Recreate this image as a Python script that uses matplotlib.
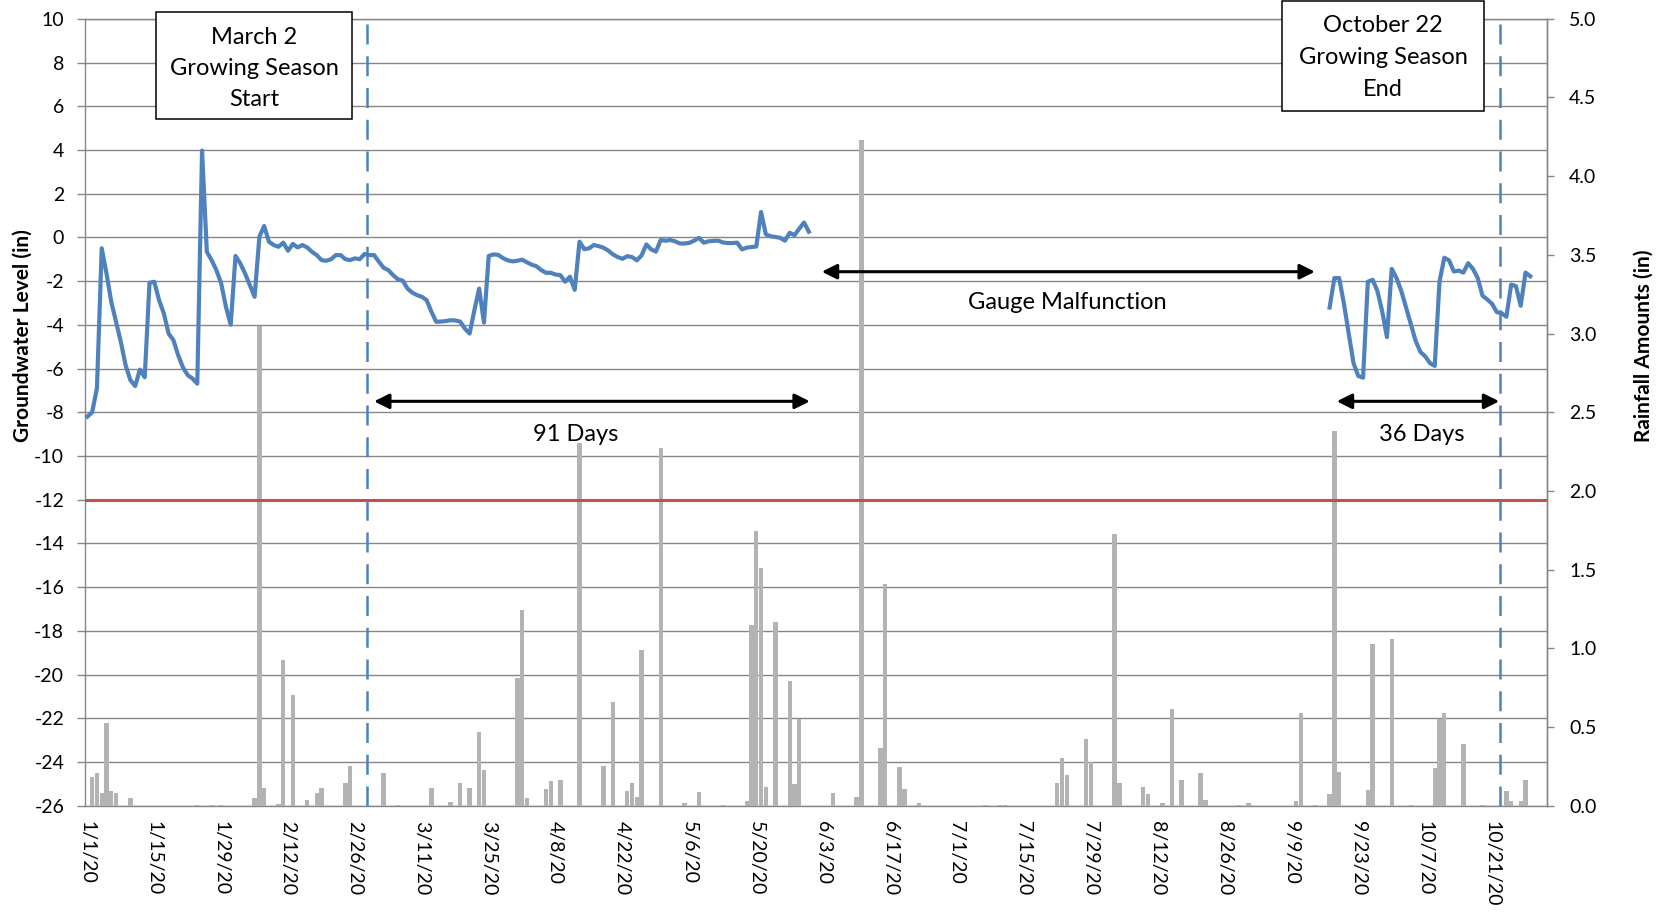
import matplotlib
matplotlib.use("Agg")
import matplotlib.pyplot as plt
import matplotlib.patches as mpatches
import numpy as np
import pandas as pd

# ------------------------------------------------------------------ data
gw_start_1 = "2020-01-01"
gw_level_1 = [
    -8.2, -8.0, -6.9, -0.5, -1.65, -2.95, -3.86, -4.78, -5.85, -6.53,
    -6.8, -6.05, -6.4, -2.08, -2.03, -2.87, -3.48, -4.4, -4.7, -5.39,
    -5.95, -6.3, -6.46, -6.69, 3.97, -0.66, -1.04, -1.5, -2.1, -3.18,
    -4.0, -0.85, -1.19, -1.65, -2.18, -2.72, 0.03, 0.52, -0.2, -0.35,
    -0.43, -0.24, -0.61, -0.3, -0.46, -0.35, -0.46, -0.66, -0.81, -1.04,
    -1.07, -1.0, -0.81, -0.81, -1.0, -1.04, -0.96, -1.0, -0.76, -0.81,
    -0.81, -1.11, -1.39, -1.5, -1.73, -1.92, -1.98, -2.34, -2.53, -2.64,
    -2.72, -2.87, -3.4, -3.86, -3.85, -3.83, -3.79, -3.8, -3.85, -4.17,
    -4.4, -3.33, -2.34, -3.9, -0.85, -0.78, -0.8, -0.95, -1.05, -1.1,
    -1.07, -1.02, -1.14, -1.25, -1.32, -1.5, -1.62, -1.62, -1.7, -1.73,
    -2.03, -1.8, -2.4, -0.2, -0.54, -0.5, -0.35, -0.4, -0.47, -0.6,
    -0.78, -0.9, -0.98, -0.86, -0.9, -1.05, -0.82, -0.32, -0.55, -0.65,
    -0.12, -0.15, -0.12, -0.18, -0.28, -0.28, -0.25, -0.15, -0.02, -0.24,
    -0.18, -0.16, -0.15, -0.23, -0.26, -0.26, -0.24, -0.55, -0.47, -0.44,
    -0.42, 1.16, 0.14, 0.05, 0.02, -0.02, -0.15, 0.21, 0.1, 0.4,
    0.68, 0.26,
]
gw_start_2 = "2020-09-17"
gw_level_2 = [
    -3.21, -1.86, -1.86, -3.04, -4.4, -5.75, -6.34, -6.42, -2.03, -1.94,
    -2.45, -3.38, -4.56, -1.44, -1.86, -2.45, -3.21, -3.97, -4.73, -5.24,
    -5.44, -5.75, -5.88, -2.03, -0.93, -1.05, -1.56, -1.52, -1.61, -1.18,
    -1.44, -1.86, -2.67, -2.84, -3.04, -3.42, -3.47, -3.63, -2.16, -2.23,
    -3.13, -1.61, -1.78,
]

rain_dates = [
    "2020-01-02", "2020-01-03", "2020-01-04", "2020-01-05", "2020-01-06",
    "2020-01-07", "2020-01-10", "2020-01-24", "2020-01-27", "2020-01-29",
    "2020-02-05", "2020-02-06", "2020-02-07", "2020-02-10", "2020-02-11",
    "2020-02-13", "2020-02-16", "2020-02-18", "2020-02-19", "2020-02-24",
    "2020-02-25", "2020-03-03", "2020-03-06", "2020-03-13", "2020-03-17",
    "2020-03-19", "2020-03-21", "2020-03-23", "2020-03-24", "2020-03-31",
    "2020-04-01", "2020-04-02", "2020-04-06", "2020-04-07", "2020-04-09",
    "2020-04-13", "2020-04-18", "2020-04-20", "2020-04-23", "2020-04-24",
    "2020-04-25", "2020-04-26", "2020-04-30", "2020-05-05", "2020-05-08",
    "2020-05-13", "2020-05-18", "2020-05-19", "2020-05-20", "2020-05-21",
    "2020-05-22", "2020-05-24", "2020-05-27", "2020-05-28", "2020-05-29",
    "2020-06-05", "2020-06-10", "2020-06-11", "2020-06-15", "2020-06-16",
    "2020-06-19", "2020-06-20", "2020-06-23", "2020-07-07", "2020-07-10",
    "2020-07-11", "2020-07-22", "2020-07-23", "2020-07-24", "2020-07-28",
    "2020-07-29", "2020-08-03", "2020-08-04", "2020-08-09", "2020-08-10",
    "2020-08-13", "2020-08-15", "2020-08-17", "2020-08-21", "2020-08-22",
    "2020-08-29", "2020-08-31", "2020-09-10", "2020-09-11", "2020-09-14",
    "2020-09-17", "2020-09-18", "2020-09-19", "2020-09-25", "2020-09-26",
    "2020-09-30", "2020-10-04", "2020-10-09", "2020-10-10", "2020-10-11",
    "2020-10-15", "2020-10-19", "2020-10-24", "2020-10-25", "2020-10-27",
    "2020-10-28",
]
rain_in = [
    0.18, 0.205, 0.083, 0.525, 0.095,
    0.078, 0.047, 0.005, 0.005, 0.005,
    0.047, 3.05, 0.114, 0.01, 0.925,
    0.703, 0.036, 0.083, 0.114, 0.146,
    0.254, 0.205, 0.005, 0.114, 0.025,
    0.146, 0.114, 0.47, 0.227, 0.81,
    1.243, 0.047, 0.106, 0.157, 0.163,
    2.306, 0.254, 0.656, 0.095, 0.146,
    0.057, 0.989, 2.274, 0.02, 0.085,
    0.005, 0.03, 1.148, 1.747, 1.508,
    0.116, 1.169, 0.794, 0.138, 0.553,
    0.078, 0.057, 4.23, 0.364, 1.406,
    0.248, 0.106, 0.02, 0.003, 0.003,
    0.003, 0.146, 0.305, 0.192, 0.424,
    0.28, 1.726, 0.147, 0.117, 0.072,
    0.02, 0.617, 0.166, 0.206, 0.035,
    0.005, 0.015, 0.03, 0.586, 0.003,
    0.072, 2.38, 0.211, 0.098, 1.028,
    1.058, 0.003, 0.241, 0.554, 0.586,
    0.394, 0.003, 0.096, 0.03, 0.03,
    0.166,
]

x_first, x_last = "2020-01-01", "2020-11-01"
tick_dates = pd.date_range("2020-01-01", "2020-10-21", freq="14D")
gw_ticks = list(range(-26, 11, 2))
rain_ticks = [0.0, 0.5, 1.0, 1.5, 2.0, 2.5, 3.0, 3.5, 4.0, 4.5, 5.0]
threshold_level = -12
season_marks = ["2020-02-28 11:00", "2020-10-22 15:30"]

arrow_91 = ("2020-03-01 00:00", "2020-05-31 05:00", -7.5)
arrow_36 = ("2020-09-18 12:00", "2020-10-22 12:00", -7.5)
arrow_gauge = ("2020-06-02 17:00", "2020-09-13 22:00", -1.57)
label_91 = ("2020-04-12 07:00", -9.0, "91 Days")
label_36 = ("2020-10-06 07:00", -9.0, "36 Days")
label_gauge = ("2020-07-24 03:00", -3.0, "Gauge Malfunction")
box_start_lines = ["March 2", "Growing Season", "Start"]
box_end_lines = ["October 22", "Growing Season", "End"]

# ------------------------------------------------------------------ style
plt.rcParams["font.family"] = ["Lato", "DejaVu Sans"]
plt.rcParams["axes.unicode_minus"] = False

W, H = 1667, 914
fig = plt.figure(figsize=(W / 100, H / 100), dpi=100)
L, R, T, B = 85, 1547, 18.8, 805.7
ax = fig.add_axes([L / W, 1 - B / H, (R - L) / W, (B - T) / H])
ax2 = ax.twinx()
ax3 = ax.twinx()

GRID = "#868686"
BLUE = "#4F81BD"
RED = "#C0504D"
BAR = "#B3B3B3"

# left axis / grid
ax.set_ylim(-26, 10)
ax.set_yticks(gw_ticks)
ax.set_yticklabels([str(v) for v in gw_ticks])
ax.grid(axis="y", color=GRID, lw=1.0)
ax.set_axisbelow(True)
for s in ["left", "bottom", "top", "right"]:
    ax.spines[s].set_color(GRID)
    ax.spines[s].set_linewidth(1.0)
ax.tick_params(axis="y", direction="out", length=5.5, width=1.0, color=GRID,
               pad=9.5, labelsize=14)

xmin = pd.Timestamp(x_first) - pd.Timedelta(hours=12)
xmax = pd.Timestamp(x_last) + pd.Timedelta(hours=12)
ax.set_xlim(xmin, xmax)
ax.set_xticks(tick_dates)
ax.set_xticklabels([f"{d.month}/{d.day}/{d.strftime('%y')}" for d in tick_dates],
                   rotation=270, ha="center", va="top")
ax.tick_params(axis="x", length=0, pad=11, labelsize=14)

# right axis: rainfall bars
ax2.bar(pd.to_datetime(rain_dates), rain_in, width=0.92, color=BAR, zorder=2)
ax2.set_ylim(0, 5)
ax2.set_yticks(rain_ticks)
ax2.set_yticklabels([f"{v:.1f}" for v in rain_ticks])
ax2.tick_params(axis="y", direction="out", length=5, width=1.0, color=GRID,
                pad=11, labelsize=14)
for s in ["left", "bottom", "top"]:
    ax2.spines[s].set_visible(False)
ax2.spines["right"].set_color(GRID)
ax2.spines["right"].set_linewidth(1.0)
ax2.set_xlim(xmin, xmax)

# top layer: groundwater, threshold, annotations
ax3.set_ylim(-26, 10)
ax3.set_xlim(xmin, xmax)
ax3.axis("off")

ax3.axhline(threshold_level, color=RED, lw=2.2, zorder=3)
x1 = pd.date_range(gw_start_1, periods=len(gw_level_1), freq="D")
x2 = pd.date_range(gw_start_2, periods=len(gw_level_2), freq="D")
ax3.plot(x1, gw_level_1, color=BLUE, lw=3.0, solid_joinstyle="round", zorder=4)
ax3.plot(x2, gw_level_2, color=BLUE, lw=3.0, solid_joinstyle="round", zorder=4)

for m in season_marks:
    ax3.axvline(pd.Timestamp(m), color=BLUE, lw=1.8, linestyle=(0, (8, 4.7)), zorder=3)

arrow_kw = dict(arrowstyle="<|-|>,head_length=0.9,head_width=0.45",
                mutation_scale=10, lw=2.2, color="black",
                shrinkA=0, shrinkB=0)
for a0, a1, yv in [arrow_91, arrow_36, arrow_gauge]:
    ax3.annotate("", xy=(pd.Timestamp(a1), yv), xytext=(pd.Timestamp(a0), yv),
                 arrowprops=arrow_kw, zorder=5)

for xd, yv, txt in [label_91, label_36, label_gauge]:
    ax3.text(pd.Timestamp(xd), yv, txt, ha="center", va="center",
             fontsize=17, color="black", zorder=5)

# text boxes (figure coordinates, pixels converted)
def add_box(x0, y0, x1_, y1, lines, cy, pitch):
    rect = mpatches.Rectangle((x0 / W, 1 - y1 / H), (x1_ - x0) / W, (y1 - y0) / H,
                              transform=fig.transFigure, facecolor="white",
                              edgecolor="black", lw=1.1, zorder=5)
    fig.add_artist(rect)
    cx = (x0 + x1_) / 2
    n = len(lines)
    for i, t in enumerate(lines):
        yy = cy + (i - (n - 1) / 2) * pitch
        fig.text(cx / W, 1 - yy / H, t, ha="center", va="center",
                 fontsize=17, zorder=6)

add_box(156.4, 12.3, 351.8, 119, box_start_lines, 68.5, 31)
add_box(1281.6, 0.6, 1484.4, 110.7, box_end_lines, 57.5, 31.5)

# axis titles
fig.text(23 / W, 1 - 336 / H, "Groundwater Level (in)", rotation=90,
         ha="center", va="center", fontsize=15, fontweight="bold")
fig.text(1644 / W, 1 - 346 / H, "Rainfall Amounts (in)", rotation=90,
         ha="center", va="center", fontsize=15, fontweight="bold")

fig.savefig("out.png", dpi=100)
